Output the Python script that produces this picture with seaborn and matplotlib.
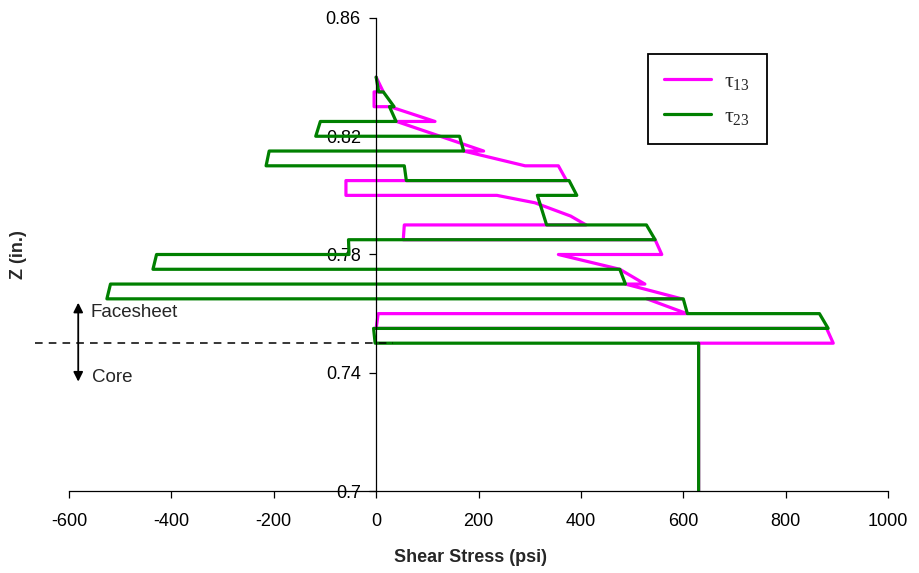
import numpy as np
import pandas as pd
import seaborn as sns
import matplotlib.pyplot as plt
from matplotlib.ticker import FuncFormatter

# path of tau_13 through the thickness (stress in psi, z in inches)
tau13_x = [0, 14, -4, -4, 27, 115, 40, 125, 210, 171, 291, 356, 372, -59, -59,
           236, 310, 380, 410, 55, 53, 545, 558, 356, 476, 525, 487, 597, 529,
           607, 4, 0, 880, 893, 630, 630]
tau13_z = [0.840, 0.835, 0.835, 0.830, 0.830, 0.825, 0.825, 0.820, 0.815, 0.815,
           0.810, 0.810, 0.805, 0.805, 0.800, 0.800, 0.7975, 0.793, 0.790, 0.790,
           0.785, 0.785, 0.780, 0.780, 0.775, 0.770, 0.770, 0.765, 0.765, 0.760,
           0.760, 0.755, 0.755, 0.750, 0.750, 0.680]

# path of tau_23
tau23_x = [0, 5, 14, 35, 26, 39, -109, -118, 163, 171, -209, -215, 55, 59, 377,
           392, 315, 333, 528, 545, -54, -53, -429, -436, 476, 487, -519, -526,
           600, 608, 866, 883, -5, -2, 630, 630]
tau23_z = [0.840, 0.835, 0.835, 0.830, 0.830, 0.825, 0.825, 0.820, 0.820, 0.815,
           0.815, 0.810, 0.810, 0.805, 0.805, 0.800, 0.800, 0.790, 0.790, 0.785,
           0.785, 0.780, 0.780, 0.775, 0.775, 0.770, 0.770, 0.765, 0.765, 0.760,
           0.760, 0.755, 0.755, 0.750, 0.750, 0.680]

x_ticks = [-600, -400, -200, 0, 200, 400, 600, 800, 1000]
z_ticks = [0.70, 0.74, 0.78, 0.82, 0.86]

sns.set_style('ticks')
plt.rcParams['font.family'] = ['Liberation Sans', 'DejaVu Sans']
plt.rcParams['axes.unicode_minus'] = False
plt.rcParams['mathtext.fontset'] = 'custom'
plt.rcParams['mathtext.rm'] = 'Liberation Serif'
plt.rcParams['mathtext.it'] = 'Liberation Serif'

fig = plt.figure(figsize=(9.19, 5.73), dpi=100)
ax = fig.add_axes([0.0751, 0.1431, 0.8912, 0.8255])

sns.lineplot(x=tau13_x, y=tau13_z, sort=False, estimator=None, color='#FF00FF',
             linewidth=2.3, ax=ax, label=r'$\tau_{13}$')
sns.lineplot(x=tau23_x, y=tau23_z, sort=False, estimator=None, color='#008000',
             linewidth=2.3, ax=ax, label=r'$\tau_{23}$')

ax.set_xlim(-600, 1000)
ax.set_ylim(0.70, 0.86)
ax.set_xticks(x_ticks)
ax.set_yticks(z_ticks)
ax.yaxis.set_major_formatter(FuncFormatter(lambda v, p: f'{v:g}'))

ax.spines['top'].set_visible(False)
ax.spines['right'].set_visible(False)
ax.spines['left'].set_position(('data', 0))
for s in ['left', 'bottom']:
    ax.spines[s].set_linewidth(0.9)
    ax.spines[s].set_color('black')
ax.tick_params(axis='both', direction='out', length=5, width=0.9, labelsize=13, colors='black')
ax.tick_params(axis='x', pad=11)
ax.tick_params(axis='y', pad=6)

ax.set_xlabel('Shear Stress (psi)', fontsize=13, fontweight='bold')
ax.set_ylabel('Z (in.)', fontsize=13, fontweight='bold')
ax.xaxis.set_label_coords(0.49, -0.122)
ax.yaxis.set_label_coords(-0.051, 0.5)

# facesheet / core boundary
ax.plot([-666, 33], [0.75, 0.75], color='black', linewidth=1.1, linestyle=(0, (5, 4)), clip_on=False)
ax.annotate('', xy=(-582, 0.7637), xytext=(-582, 0.7370),
            arrowprops=dict(arrowstyle='<|-|>', color='black', lw=1.3,
                            mutation_scale=14, shrinkA=0, shrinkB=0),
            annotation_clip=False)
ax.text(-559, 0.7605, 'Facesheet', fontsize=13.5, va='center', ha='left', clip_on=False)
ax.text(-555, 0.7385, 'Core', fontsize=13.5, va='center', ha='left', clip_on=False)

leg = ax.legend(loc='upper right', bbox_to_anchor=(0.852, 0.924), borderaxespad=0,
                fontsize=16, frameon=True, fancybox=False, framealpha=1,
                edgecolor='black', handlelength=2.1, handletextpad=0.6,
                labelspacing=0.65, borderpad=0.75)
leg.get_frame().set_linewidth(1.3)

fig.savefig('out.png', dpi=100)
